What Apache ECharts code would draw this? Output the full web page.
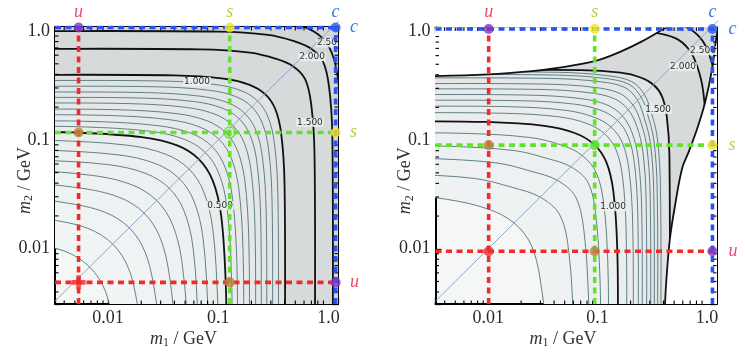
<!DOCTYPE html>
<html>
<head>
<meta charset="utf-8">
<script src="https://cdn.jsdelivr.net/npm/echarts@6.0.0/dist/echarts.min.js"></script>
<style>
html,body{margin:0;padding:0;background:#ffffff;}
#chart{width:745px;height:354px;}
</style>
</head>
<body>
<div id="chart"></div>
<script>
// ---------------- data ----------------
// axis ranges (GeV)
const xRange = [0.0033, 1.22];
const yRange = [0.0031, 1.09];
const majorTickValues = [0.01, 0.1, 1];
const majorTickLabels = ['0.01', '0.1', '1.0'];
const minorTickValues = [0.004, 0.005, 0.006, 0.007, 0.008, 0.009,
  0.02, 0.03, 0.04, 0.05, 0.06, 0.07, 0.08, 0.09,
  0.2, 0.3, 0.4, 0.5, 0.6, 0.7, 0.8, 0.9];

// quark masses marked by the dashed lines (GeV)
const flavours = ['u', 's', 'c'];
const leftMassX = [0.0054, 0.127, 1.16];
const leftMassY = [0.0049, 0.117, 1.08];
const rightMassX = [0.0101, 0.094, 1.12];
const rightMassY = [0.0095, 0.090, 1.055];

// contour geometry, in log10(GeV): horizontal asymptote (H), vertical asymptote (V), corner roundness (R)
const leftLevels = [0.10, 0.15, 0.20, 0.25, 0.30, 0.35, 0.40, 0.45, 0.50, 0.55, 0.60, 0.65, 0.70, 0.75, 0.80, 0.85, 0.90, 0.95, 1.0, 1.5, 2.0, 2.5];
const leftH = [-1.88, -1.67, -1.52, -1.385, -1.27, -1.175, -1.085, -0.997, -0.925, -0.874, -0.825, -0.769, -0.717, -0.661, -0.61, -0.56, -0.507, -0.454, -0.402, -0.163, 0.0, 0.12];
const leftV = [-1.88, -1.67, -1.52, -1.385, -1.27, -1.175, -1.085, -0.997, -0.925, -0.874, -0.825, -0.769, -0.717, -0.661, -0.61, -0.56, -0.507, -0.454, -0.394, -0.122, 0.04, 0.12];
const leftR = [1.6, 1.6, 1.6, 1.6, 1.6, 1.5, 1.5, 1.5, 1.4, 1.35, 1.3, 1.25, 1.2, 1.15, 1.1, 1.1, 1.05, 1.05, 1.0, 1.0, 1.0, 1.0];
const leftThickLevels = [0.5, 1.0, 1.5, 2.0, 2.5];

const rightLevels = [0.5, 0.6, 0.7, 0.8, 0.9, 1.0, 1.05, 1.10, 1.15, 1.20, 1.25, 1.30, 1.35, 1.40, 1.45, 1.5, 2.0, 2.5];
const rightH = [-1.49, -1.30, -1.16, -1.05, -0.932, -0.826, -0.747, -0.687, -0.632, -0.580, -0.528, -0.479, -0.427, -0.395, -0.37, -0.351, 0.03, 0.13];
const rightV = [-1.46, -1.21, -1.075, -0.972, -0.90, -0.814, -0.734, -0.674, -0.628, -0.592, -0.552, -0.515, -0.482, -0.451, -0.421, -0.34, 0.0, 0.11];
const rightR = [1.6, 1.5, 1.4, 1.3, 1.25, 1.2, 1.1, 1.1, 1.05, 1.05, 1.0, 1.0, 1.0, 1.0, 1.0, 0.8, 1.0, 1.0];
const rightThickLevels = [1.0, 1.5, 2.0, 2.5];

// corner shape of the contours (offsets from the asymptote, log10 decades)
const cornerTemplate = [[-1.0, -0.005], [-0.55, -0.035], [-0.32, -0.09]];
const cornerDepth = -0.18;

// boundaries of the excluded (white) regions in the right panel, log10(GeV)
const rightTopBoundary = [[-3.5, -0.412], [-2.9, -0.412], [-2.48, -0.41], [-2.0, -0.395], [-1.6, -0.365], [-1.4, -0.34], [-1.02, -0.27], [-0.78, -0.18], [-0.6, -0.093], [-0.414, 0.015], [-0.3, 0.09], [-0.25, 0.4]];
const rightSideBoundary = [[0.13, 0.4], [0.1, 0.05], [0.082, -0.077], [0.045, -0.351], [-0.018, -0.653], [-0.092, -0.9], [-0.165, -1.101], [-0.229, -1.265], [-0.293, -1.604], [-0.339, -1.905], [-0.366, -2.207], [-0.384, -2.509], [-0.39, -2.9], [-0.39, -3.5]];

// contour labels (log10 GeV positions)
const leftLabelText = ['0.500', '1.000', '1.500', '2.000', '2.50'];
const leftLabelPos = [[-0.984, -1.605], [-1.193, -0.464], [-0.168, -0.839], [-0.149, -0.236], [-0.013, -0.109]];
const rightLabelText = ['1.000', '1.500', '2.000', '2.500'];
const rightLabelPos = [[-0.859, -1.613], [-0.448, -0.717], [-0.22, -0.324], [-0.037, -0.177]];

// diagonal m1 = m2 (GeV)
const diagonal = [[0.0033, 0.0033], [1.5, 1.5]];

// ---------------- styles ----------------
const FAR = -3.5, LO = -2.9, HI = 0.9;
const L10 = function (v) { return Math.pow(10, v); };
const serif = '"Liberation Serif", "DejaVu Serif", serif';
const dashColors = ['#f32a2a', '#62e22c', '#2a52f2'];
const letterColors = ['#ee4a6a', '#b3d13a', '#3b78ea'];
const dotPalette = {red: '#f02a2a', brown: '#b8813c', purple: '#7438c6', green: '#56e02e', yellow: '#f4e42c', blue: '#2a5cf0'};
const dotMatrix = [ // [y flavour][x flavour]
  ['red', 'brown', 'purple'],
  ['brown', 'green', 'yellow'],
  ['purple', 'yellow', 'blue']];

function contourPath(h, v, s) {
  const pts = [[FAR, h], [LO, h]];
  cornerTemplate.forEach(function (t) { const x = h + t[0] * s; if (x > LO + 0.05) pts.push([x, h + t[1] * s]); });
  const d = (h + v) / 2 + cornerDepth * s;
  pts.push([d, d]);
  for (let k = cornerTemplate.length - 1; k >= 0; k--) {
    const t = cornerTemplate[k]; const y = v + t[0] * s;
    if (y > LO + 0.05) pts.push([v + t[1] * s, y]);
  }
  pts.push([v, LO], [v, FAR]);
  return pts;
}
function grey(L) { L = Math.round(L); return 'rgb(' + (L - 3) + ',' + L + ',' + L + ')'; }
function leftShade(lev) { return lev >= 1 ? grey(lev >= 2 ? 214 : 218) : grey(246 - 20 * lev); }
function rightShade(lev) { return lev >= 1.5 ? grey(218) : (lev >= 1 ? grey(238 - 22 * (lev - 1)) : grey(246 - 8 * lev)); }

function buildItems(levels, H, V, R, shade, thickLevels) {
  const fills = [], lines = [];
  levels.forEach(function (lev, i) {
    const p = contourPath(H[i], V[i], R[i]);
    fills.push({closed: true, pts: p.concat([[HI, FAR], [HI, HI], [FAR, HI]]), style: {fill: shade(lev), stroke: 'none'}});
    const thick = thickLevels.indexOf(lev) >= 0;
    lines.push({closed: false, pts: p, style: {fill: 'none', stroke: thick ? '#111111' : '#527479', lineWidth: thick ? 1.8 : 0.9}});
  });
  return {fills: fills, lines: lines};
}

function shapeSeries(g, items) {
  return {
    type: 'custom', coordinateSystem: 'cartesian2d', xAxisIndex: 2 * g, yAxisIndex: 2 * g,
    clip: true, silent: true,
    data: items.map(function (it, i) { return [0.05, 0.05, i]; }),
    encode: {x: 0, y: 1},
    renderItem: function (params, api) {
      const it = items[api.value(2)];
      const pts = it.pts.map(function (p) { return api.coord([L10(p[0]), L10(p[1])]); });
      return {type: it.closed ? 'polygon' : 'polyline', shape: {points: pts, smooth: 0.35}, style: it.style};
    }
  };
}

function labelSeries(g, texts, pos) {
  return {
    type: 'custom', coordinateSystem: 'cartesian2d', xAxisIndex: 2 * g, yAxisIndex: 2 * g,
    silent: true, clip: false,
    data: pos.map(function (p, i) { return [L10(p[0]), L10(p[1]), i]; }),
    encode: {x: 0, y: 1},
    renderItem: function (params, api) {
      const c = api.coord([api.value(0), api.value(1)]);
      return {type: 'text', x: c[0], y: c[1], style: {text: texts[api.value(2)], fill: '#2a2a2a', font: '9px "DejaVu Sans", sans-serif', align: 'center', verticalAlign: 'middle', backgroundColor: 'rgba(236,238,238,0.9)', padding: [0, 1]}};
    }
  };
}

function tickSeries(g) {
  return {
    type: 'custom', coordinateSystem: 'cartesian2d', xAxisIndex: 2 * g, yAxisIndex: 2 * g,
    silent: true, clip: false,
    data: minorTickValues.map(function (v) { return [v, v]; }),
    encode: {x: 0, y: 1},
    renderItem: function (params, api) {
      const v = api.value(0);
      const b = api.coord([v, yRange[0]]), t = api.coord([v, yRange[1]]);
      const l = api.coord([xRange[0], v]), r = api.coord([xRange[1], v]);
      const st = {stroke: '#000', lineWidth: 1.1};
      return {type: 'group', children: [
        {type: 'line', shape: {x1: b[0], y1: b[1], x2: b[0], y2: b[1] - 3.5}, style: st},
        {type: 'line', shape: {x1: t[0], y1: t[1], x2: t[0], y2: t[1] + 3.5}, style: st},
        {type: 'line', shape: {x1: l[0], y1: l[1], x2: l[0] + 3.5, y2: l[1]}, style: st},
        {type: 'line', shape: {x1: r[0], y1: r[1], x2: r[0] - 3.5, y2: r[1]}, style: st}
      ]};
    }
  };
}

function letterSeries(g, mx, my) {
  const items = [];
  flavours.forEach(function (f, i) { items.push([mx[i], yRange[1], i, 0]); });
  flavours.forEach(function (f, i) { items.push([xRange[1], my[i], i, 1]); });
  return {
    type: 'custom', coordinateSystem: 'cartesian2d', xAxisIndex: 2 * g, yAxisIndex: 2 * g,
    silent: true, clip: false, data: items, encode: {x: 0, y: 1},
    renderItem: function (params, api) {
      const c = api.coord([api.value(0), api.value(1)]);
      const i = api.value(2), side = api.value(3);
      return {type: 'text', x: side ? c[0] + 12 : c[0], y: side ? c[1] : c[1] - 15,
        style: {text: flavours[i], fill: letterColors[i], font: 'italic 18px ' + serif, align: side ? 'left' : 'center', verticalAlign: 'middle'}};
    }
  };
}

function dashSeries(g, mx, my) {
  const out = [];
  for (let i = 0; i < 3; i++) {
    out.push({type: 'line', xAxisIndex: 2 * g, yAxisIndex: 2 * g, symbol: 'none', silent: true, clip: true,
      data: [[xRange[0], my[i]], [xRange[1], my[i]]],
      lineStyle: {color: dashColors[i], width: 3.6, type: [6, 4.5], cap: 'butt'}});
  }
  for (let i = 0; i < 3; i++) {
    out.push({type: 'line', xAxisIndex: 2 * g, yAxisIndex: 2 * g, symbol: 'none', silent: true, clip: true,
      data: [[mx[i], yRange[0]], [mx[i], yRange[1]]],
      lineStyle: {color: dashColors[i], width: 3.6, type: [6, 4.5], cap: 'butt'}});
  }
  return out;
}

function dotSeries(g, mx, my, filledCentre) {
  const data = [];
  for (let iy = 0; iy < 3; iy++) for (let ix = 0; ix < 3; ix++) {
    const name = dotMatrix[iy][ix];
    const special = (!filledCentre && (name === 'red' || name === 'green'));
    let item = {value: [mx[ix], my[iy]], itemStyle: {color: dotPalette[name]}};
    if (special && name === 'red') item = {value: [mx[ix], my[iy]], symbol: 'path://M4,0h4v4h4v4h-4v4h-4v-4h-4v-4h4z', symbolSize: 14, itemStyle: {color: dotPalette.red}};
    if (special && name === 'green') item = {value: [mx[ix], my[iy]], symbol: 'circle', symbolSize: 11, itemStyle: {color: 'rgba(0,0,0,0)', borderColor: dotPalette.green, borderWidth: 1.6}};
    data.push(item);
  }
  return {type: 'scatter', xAxisIndex: 2 * g, yAxisIndex: 2 * g, symbol: 'circle', symbolSize: 10, clip: false, silent: true, data: data, z: 5};
}

function fmtTick(v) {
  for (let i = 0; i < majorTickValues.length; i++) {
    if (Math.abs(Math.log10(v) - Math.log10(majorTickValues[i])) < 1e-3) return majorTickLabels[i];
  }
  return '';
}
const titleRich = {
  it: {fontFamily: serif, fontStyle: 'italic', fontSize: 18, color: '#333'},
  sb: {fontFamily: serif, fontSize: 12, color: '#333', padding: [8, 0, 0, 0]},
  rm: {fontFamily: serif, fontSize: 18, color: '#333'}
};
function makeAxis(g, pos, labels, range, name, isY) {
  const a = {
    type: 'log', logBase: 10, gridIndex: g, min: range[0], max: range[1], position: pos,
    axisLine: {show: true, onZero: false, lineStyle: {color: '#000', width: 2}},
    axisTick: {show: true, inside: true, length: 6, lineStyle: {color: '#000', width: 1.3}},
    axisLabel: {show: labels, formatter: fmtTick, fontFamily: serif, fontSize: 18, color: '#2a2a2a', margin: 5},
    splitLine: {show: false}, minorTick: {show: false}, minorSplitLine: {show: false}
  };
  if (name) {
    a.name = name; a.nameLocation = 'middle'; a.nameMoveOverlap = false;
    if (isY) { a.nameGap = 20; a.nameRotate = 90; a.nameTextStyle = {rich: titleRich, padding: [0, 30, 0, 0]}; }
    else { a.nameGap = 25; a.nameTextStyle = {rich: titleRich, padding: [0, 26, 0, 0]}; }
  }
  return a;
}

const leftItems = buildItems(leftLevels, leftH, leftV, leftR, leftShade, leftThickLevels);
const rightItems = buildItems(rightLevels, rightH, rightV, rightR, rightShade, rightThickLevels);
const whiteItems = [
  {closed: true, pts: rightTopBoundary.concat([[-0.25, HI], [FAR - 0.5, HI], [FAR - 0.5, -0.412]]), style: {fill: '#ffffff', stroke: 'none'}},
  {closed: true, pts: rightSideBoundary.concat([[HI, -3.5], [HI, 0.4]]), style: {fill: '#ffffff', stroke: 'none'}}
];
const boundaryItems = [
  {closed: false, pts: rightTopBoundary, style: {fill: 'none', stroke: '#111111', lineWidth: 1.8}},
  {closed: false, pts: rightSideBoundary, style: {fill: 'none', stroke: '#111111', lineWidth: 1.8}}
];

const xName = '{it|m}{sb|1}{rm| / GeV}';
const yName = '{it|m}{sb|2}{rm| / GeV}';

const option = {
  animation: false,
  backgroundColor: '#ffffff',
  grid: [
    {left: 55, top: 27, width: 283, height: 279, show: true, backgroundColor: '#f5f6f6', borderWidth: 0},
    {left: 435.5, top: 27.5, width: 281, height: 278.5, show: true, backgroundColor: '#f5f6f6', borderWidth: 0}
  ],
  xAxis: [
    makeAxis(0, 'bottom', true, xRange, xName, false), makeAxis(0, 'top', false, xRange),
    makeAxis(1, 'bottom', true, xRange, xName, false), makeAxis(1, 'top', false, xRange)
  ],
  yAxis: [
    makeAxis(0, 'left', true, yRange, yName, true), makeAxis(0, 'right', false, yRange),
    makeAxis(1, 'left', true, yRange, yName, true), makeAxis(1, 'right', false, yRange)
  ],
  series: [].concat(
    [shapeSeries(0, leftItems.fills), shapeSeries(0, leftItems.lines)],
    [shapeSeries(1, rightItems.fills), shapeSeries(1, rightItems.lines), shapeSeries(1, whiteItems), shapeSeries(1, boundaryItems)],
    [labelSeries(0, leftLabelText, leftLabelPos), labelSeries(1, rightLabelText, rightLabelPos)],
    [
      {type: 'line', xAxisIndex: 0, yAxisIndex: 0, symbol: 'none', clip: false, silent: true, data: diagonal, lineStyle: {color: '#7fa2cc', width: 0.9}},
      {type: 'line', xAxisIndex: 2, yAxisIndex: 2, symbol: 'none', clip: false, silent: true, data: diagonal, lineStyle: {color: '#7fa2cc', width: 0.9}}
    ],
    dashSeries(0, leftMassX, leftMassY), dashSeries(1, rightMassX, rightMassY),
    [tickSeries(0), tickSeries(1)],
    [dotSeries(0, leftMassX, leftMassY, false), dotSeries(1, rightMassX, rightMassY, true)],
    [letterSeries(0, leftMassX, leftMassY), letterSeries(1, rightMassX, rightMassY)]
  )
};
const chart = echarts.init(document.getElementById('chart'), null, {renderer: 'canvas', width: 745, height: 354});
chart.setOption(option);
</script>
</body>
</html>
